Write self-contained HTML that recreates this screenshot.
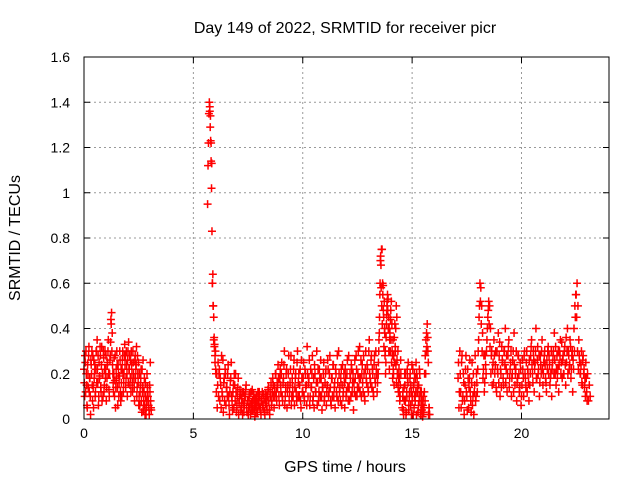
<!DOCTYPE html>
<html><head><meta charset="utf-8"><style>
html,body{margin:0;padding:0;background:#fff;}
svg{display:block;font-family:"Liberation Sans",sans-serif;}
</style></head><body>
<svg id="chart" width="640" height="480">
<text x="345" y="33" text-anchor="middle" font-size="16">Day 149 of 2022, SRMTID for receiver picr</text>
<text transform="translate(20,238) rotate(-90)" text-anchor="middle" font-size="16">SRMTID / TECUs</text>
<text x="345" y="472" text-anchor="middle" font-size="16">GPS time / hours</text>
<g id="grid"></g><g id="ticks"></g><g id="marks"></g>
<rect x="84" y="57" width="525" height="362" fill="none" stroke="#000" stroke-width="1"/>
</svg>
<script>
const xTicks=[0,5,10,15,20];
const yTicks=[0,0.2,0.4,0.6,0.8,1,1.2,1.4,1.6];
const yTickLabels=["0","0.2","0.4","0.6","0.8","1","1.2","1.4","1.6"];
const segStarts=[0.0,5.65,6.05,9.0,13.45,14.55,17.1];
const segSteps=[0.03,0.02,0.04,0.04,0.025,0.03,0.04];
const segValues=[
[0.22,0.1,0.25,0.3,0.15,0.05,0.2,0.28,0.12,0.18,0.02,0.24,0.3,0.08,0.14,0.26,0.2,0.1,0.22,0.3,0.35,0.16,0.06,0.25,0.19,0.28,0.12,0.32,0.2,0.1,0.27,0.15,0.3,0.22,0.08,0.18,0.25,0.35,0.13,0.2,0.28,0.44,0.47,0.38,0.2,0.12,0.27,0.17,0.05,0.22,0.3,0.14,0.24,0.1,0.19,0.26,0.08,0.16,0.22,0.3,0.12,0.2,0.33,0.28,0.18,0.24,0.1,0.3,0.34,0.22,0.15,0.26,0.3,0.2,0.12,0.25,0.18,0.08,0.28,0.22,0.32,0.14,0.2,0.25,0.1,0.06,0.15,0.22,0.03,0.12,0.26,0.08,0.18,0.02,0.1,0.05,0.2,0.12,0.08,0.04,0.15,0.25,0.05],
[0.95,1.12,1.22,1.35,1.4,1.38,1.29,1.23,1.14,1.02,0.83,0.6,0.64,0.5,0.45,0.36,0.33,0.28,0.3,0.2],
[0.12,0.05,0.25,0.2,0.08,0.15,0.28,0.1,0.03,0.18,0.22,0.06,0.14,0.2,0.1,0.02,0.17,0.25,0.08,0.12,0.05,0.15,0.2,0.03,0.1,0.18,0.07,0.13,0.04,0.09,0.02,0.12,0.06,0.1,0.15,0.03,0.08,0.05,0.11,0.02,0.07,0.13,0.04,0.09,0.01,0.06,0.1,0.03,0.08,0.12,0.05,0.02,0.09,0.06,0.11,0.03,0.07,0.1,0.04,0.13,0.08,0.02,0.1,0.06,0.12,0.15,0.05,0.1,0.2,0.08,0.14,0.18,0.06,0.22],
[0.12,0.25,0.08,0.18,0.3,0.1,0.2,0.05,0.15,0.28,0.12,0.22,0.06,0.18,0.1,0.26,0.14,0.2,0.08,0.3,0.16,0.1,0.22,0.05,0.18,0.12,0.25,0.08,0.2,0.15,0.32,0.1,0.18,0.06,0.22,0.14,0.28,0.1,0.05,0.2,0.12,0.3,0.16,0.08,0.22,0.1,0.18,0.04,0.14,0.25,0.1,0.2,0.06,0.15,0.22,0.12,0.28,0.08,0.18,0.1,0.24,0.14,0.05,0.2,0.1,0.16,0.3,0.12,0.08,0.22,0.15,0.1,0.2,0.05,0.18,0.12,0.26,0.08,0.14,0.2,0.1,0.22,0.16,0.04,0.12,0.18,0.28,0.1,0.2,0.14,0.32,0.18,0.1,0.24,0.12,0.2,0.08,0.3,0.16,0.22,0.12,0.35,0.18,0.26,0.14,0.2,0.1,0.28,0.16,0.22,0.12],
[0.2,0.3,0.38,0.55,0.7,0.68,0.75,0.75,0.6,0.59,0.45,0.52,0.38,0.3,0.25,0.42,0.5,0.55,0.53,0.45,0.4,0.35,0.3,0.48,0.52,0.42,0.28,0.35,0.2,0.15,0.25,0.32,0.4,0.5,0.45,0.2,0.3,0.12,0.22,0.18,0.1,0.26],
[0.05,0.12,0.02,0.08,0.15,0.2,0.03,0.1,0.18,0.25,0.06,0.12,0.2,0.15,0.02,0.08,0.22,0.14,0.05,0.1,0.18,0.25,0.2,0.12,0.03,0.15,0.22,0.08,0.02,0.12,0.04,0.01,0.1,0.05,0.2,0.28,0.35,0.38,0.42,0.3,0.02,0.05],
[0.18,0.05,0.3,0.12,0.25,0.08,0.2,0.02,0.15,0.28,0.1,0.22,0.05,0.18,0.12,0.03,0.25,0.1,0.02,0.15,0.08,0.2,0.12,0.3,0.45,0.6,0.58,0.5,0.38,0.22,0.12,0.28,0.2,0.35,0.45,0.52,0.5,0.4,0.28,0.15,0.25,0.35,0.2,0.3,0.12,0.22,0.38,0.28,0.1,0.2,0.32,0.25,0.15,0.3,0.4,0.22,0.12,0.28,0.35,0.18,0.25,0.1,0.2,0.3,0.38,0.15,0.22,0.08,0.18,0.28,0.12,0.25,0.06,0.15,0.22,0.1,0.3,0.18,0.25,0.12,0.2,0.08,0.15,0.28,0.35,0.2,0.3,0.12,0.25,0.4,0.18,0.32,0.22,0.1,0.28,0.2,0.35,0.15,0.25,0.3,0.18,0.12,0.22,0.32,0.28,0.15,0.2,0.1,0.25,0.3,0.38,0.2,0.15,0.28,0.22,0.12,0.3,0.35,0.25,0.18,0.28,0.2,0.32,0.15,0.25,0.4,0.3,0.22,0.35,0.18,0.28,0.12,0.22,0.3,0.45,0.55,0.6,0.5,0.35,0.25,0.2,0.3,0.15,0.28,0.22,0.18,0.25,0.12,0.2,0.08,0.15,0.1]
];
const seg2Starts=[0.015,5.75,6.07,9.02,13.46,14.57,17.12];
const seg2Steps=[0.03,0.03,0.04,0.04,0.025,0.03,0.04];
const seg2Values=[
[0.16,0.28,0.12,0.2,0.06,0.24,0.14,0.32,0.18,0.1,0.26,0.2,0.15,0.28,0.05,0.18,0.24,0.12,0.3,0.16,0.22,0.28,0.1,0.18,0.32,0.14,0.24,0.08,0.2,0.3,0.12,0.22,0.18,0.28,0.14,0.24,0.3,0.2,0.1,0.26,0.34,0.42,0.3,0.24,0.16,0.2,0.1,0.28,0.14,0.18,0.24,0.06,0.2,0.16,0.3,0.12,0.22,0.1,0.26,0.2,0.16,0.28,0.24,0.14,0.3,0.2,0.26,0.16,0.22,0.28,0.18,0.12,0.24,0.16,0.3,0.2,0.14,0.26,0.18,0.24,0.1,0.28,0.16,0.06,0.2,0.12,0.18,0.08,0.22,0.14,0.04,0.12,0.06,0.16,0.02,0.08,0.14,0.1,0.06,0.02,0.12,0.08,0.04],
[1.36,1.34,1.22,1.13,0.6,0.5,0.35,0.32,0.25,0.22],
[0.2,0.15,0.1,0.22,0.18,0.05,0.12,0.26,0.16,0.08,0.2,0.14,0.1,0.24,0.06,0.12,0.18,0.1,0.04,0.15,0.2,0.08,0.12,0.06,0.14,0.02,0.09,0.11,0.05,0.12,0.07,0.03,0.1,0.13,0.05,0.08,0.02,0.1,0.06,0.12,0.04,0.08,0.11,0.05,0.09,0.03,0.07,0.12,0.06,0.1,0.04,0.08,0.12,0.05,0.09,0.02,0.11,0.06,0.1,0.14,0.04,0.12,0.16,0.08,0.18,0.1,0.14,0.2,0.12,0.16,0.24,0.1,0.18,0.15],
[0.2,0.1,0.16,0.24,0.06,0.14,0.22,0.12,0.2,0.08,0.16,0.28,0.1,0.14,0.22,0.06,0.18,0.12,0.25,0.1,0.2,0.15,0.08,0.26,0.12,0.18,0.1,0.22,0.14,0.06,0.2,0.16,0.26,0.1,0.14,0.2,0.08,0.18,0.24,0.12,0.16,0.06,0.22,0.12,0.18,0.26,0.1,0.14,0.2,0.08,0.16,0.22,0.12,0.26,0.1,0.2,0.14,0.06,0.18,0.24,0.1,0.16,0.22,0.12,0.28,0.08,0.2,0.14,0.18,0.06,0.24,0.12,0.16,0.22,0.1,0.2,0.14,0.28,0.08,0.18,0.24,0.12,0.2,0.16,0.26,0.1,0.22,0.14,0.3,0.18,0.12,0.26,0.2,0.16,0.28,0.1,0.22,0.18,0.24,0.14,0.3,0.2,0.16,0.28,0.22,0.12,0.24,0.18,0.3,0.2,0.16],
[0.25,0.35,0.45,0.6,0.72,0.58,0.5,0.42,0.55,0.48,0.32,0.4,0.28,0.2,0.36,0.46,0.52,0.48,0.4,0.3,0.22,0.38,0.44,0.35,0.25,0.3,0.18,0.22,0.28,0.36,0.42,0.3,0.24,0.16,0.26,0.2,0.14,0.18,0.12,0.08,0.15,0.2],
[0.1,0.04,0.14,0.2,0.08,0.02,0.12,0.22,0.16,0.04,0.1,0.18,0.06,0.12,0.24,0.1,0.02,0.16,0.2,0.08,0.12,0.02,0.18,0.14,0.06,0.1,0.2,0.12,0.04,0.08,0.02,0.06,0.03,0.12,0.08,0.2,0.3,0.32,0.36,0.25,0.05,0.02],
[0.25,0.12,0.2,0.05,0.28,0.1,0.16,0.08,0.22,0.12,0.04,0.18,0.14,0.26,0.08,0.16,0.06,0.2,0.12,0.28,0.1,0.16,0.22,0.35,0.5,0.52,0.42,0.3,0.18,0.28,0.16,0.24,0.3,0.4,0.48,0.42,0.32,0.2,0.3,0.22,0.16,0.28,0.24,0.14,0.3,0.2,0.16,0.34,0.22,0.14,0.26,0.18,0.3,0.24,0.16,0.28,0.2,0.32,0.14,0.22,0.3,0.18,0.26,0.12,0.24,0.2,0.3,0.16,0.28,0.2,0.14,0.22,0.1,0.26,0.18,0.28,0.2,0.14,0.3,0.22,0.16,0.26,0.2,0.32,0.24,0.16,0.26,0.22,0.3,0.18,0.26,0.2,0.28,0.16,0.24,0.3,0.22,0.2,0.28,0.24,0.16,0.26,0.3,0.2,0.24,0.18,0.3,0.22,0.28,0.2,0.26,0.32,0.22,0.18,0.3,0.24,0.28,0.2,0.34,0.26,0.2,0.3,0.24,0.36,0.3,0.2,0.28,0.24,0.32,0.22,0.3,0.26,0.4,0.5,0.55,0.45,0.3,0.22,0.28,0.2,0.24,0.16,0.26,0.2,0.14,0.1,0.18,0.08]
];
const NS="http://www.w3.org/2000/svg";
const X0=84,X1=609,Y0=419,Y1=57,XMAX=24,YMAX=1.6;
function xs(t){return X0+(X1-X0)*t/XMAX;}
function ys(v){return Y0-(Y0-Y1)*v/YMAX;}
const grid=document.getElementById('grid'),ticks=document.getElementById('ticks'),marks=document.getElementById('marks');
function mk(tag,attrs,parent){const e=document.createElementNS(NS,tag);for(const k in attrs)e.setAttribute(k,attrs[k]);parent.appendChild(e);return e;}
xTicks.forEach(t=>{
  const x=xs(t);
  if(t>0){const g=mk('line',{x1:x,x2:x,y1:Y0,y2:Y1,stroke:'#999','stroke-dasharray':'2,3'},grid);
  
  }
  mk('line',{x1:x,x2:x,y1:Y0,y2:Y0-6,stroke:'#000'},ticks);
  mk('line',{x1:x,x2:x,y1:Y1,y2:Y1+6,stroke:'#000'},ticks);
  const l=mk('text',{x:x,y:Y0+19,'text-anchor':'middle','font-size':14},ticks);l.textContent=String(t);
  
  
});
yTicks.forEach((v,i)=>{
  const y=ys(v);
  if(v>0&&v<YMAX){const g=mk('line',{x1:X0,x2:X1,y1:y,y2:y,stroke:'#999','stroke-dasharray':'2,3'},grid);
  
  }
  mk('line',{x1:X0,x2:X0+6,y1:y,y2:y,stroke:'#000'},ticks);
  mk('line',{x1:X1,x2:X1-6,y1:y,y2:y,stroke:'#000'},ticks);
  const l=mk('text',{x:X0-14,y:y+5,'text-anchor':'end','font-size':14},ticks);l.textContent=yTickLabels[i];
  
  
});
function drawSegs(starts,steps,values){
  values.forEach((vals,s)=>{
    vals.forEach((v,i)=>{
      const t=starts[s]+i*steps[s];
      const x=xs(t),y=ys(v);
      const p=mk('path',{d:`M${x-4},${y}H${x+4}M${x},${y-4}V${y+4}`,stroke:'#f00','stroke-width':1.5},marks);
      
      
    });
  });
}
drawSegs(segStarts,segSteps,segValues);
drawSegs(seg2Starts,seg2Steps,seg2Values);
</script>
</body></html>
